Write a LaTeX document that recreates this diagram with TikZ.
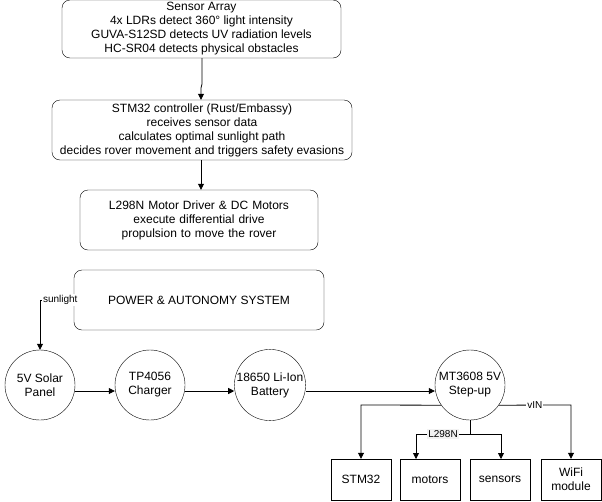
\documentclass[tikz,border=0pt]{standalone}
\usepackage{fontspec}
\setmainfont{Liberation Sans}
\usetikzlibrary{arrows.meta}
\begin{document}
\begin{tikzpicture}[x=1pt,y=-1pt,
  rbox/.style={draw,rounded corners=8pt,align=center,inner sep=0pt},
  sbox/.style={draw,align=center,inner sep=0pt},
  circ/.style={draw,circle,minimum size=70pt,inner sep=0pt,align=center},
  arr/.style={-{Triangle[length=6pt,width=6pt]},line width=0.8pt},
  lab/.style={font=\fontsize{10}{12}\selectfont,fill=white,inner sep=1pt},
  every node/.append style={font=\fontsize{12}{14}\selectfont}]
\useasboundingbox (0,0) rectangle (602,501);
\node[rbox,minimum width=279pt,minimum height=58pt] (sa) at (201.5,29) {Sensor Array\\4x LDRs detect 360° light intensity\\GUVA-S12SD detects UV radiation levels\\HC-SR04 detects physical obstacles};
\node[rbox,minimum width=300pt,minimum height=60pt] (mc) at (202,130) {STM32 controller (Rust/Embassy)\\receives sensor data\\calculates optimal sunlight path\\decides rover movement and triggers safety evasions};
\node[rbox,minimum width=238pt,minimum height=60pt,text width=236pt] (md) at (199,220) {L298N Motor Driver \& DC Motors\\execute differential drive propulsion to move the rover};
\node[rbox,minimum width=250pt,minimum height=60pt] (pw) at (199,300) {POWER \& AUTONOMY SYSTEM};
\node[circ] (c1) at (40,385) {5V Solar\\Panel};
\node[circ] (c2) at (150,385) {TP4056\\Charger};
\node[circ] (c3) at (270,385) {18650 Li-Ion\\Battery};
\node[circ] (c4) at (470,385) {MT3608 5V\\Step-up};
\node[sbox,minimum width=60pt,minimum height=41pt] (b1) at (361,479.5) {STM32};
\node[sbox,minimum width=60pt,minimum height=41pt] (b2) at (430,479.5) {motors};
\node[sbox,minimum width=60pt,minimum height=41pt] (b3) at (500,479.5) {sensors};
\node[sbox,minimum width=60pt,minimum height=41pt] (b4) at (571,479.5) {WiFi\\module};
\draw[arr] (sa.south -| 202,0) -- (202,84) -- (201,88) -- (mc.north -| 201,0);
\draw[arr] (mc.south -| 201,0) -- (md.north -| 201,0);
\draw[arr] (pw.west) -- (40,300) node[lab,pos=0.4] {sunlight} -- (c1.north);
\draw[arr] (c1.east |- 0,391) -- (c2.west |- 0,391);
\draw[arr] (c2.east |- 0,391) -- (c3.west |- 0,391);
\draw[arr] (c3.east |- 0,391) -- (c4.west |- 0,391);
\draw[arr] (c4.-145) -- (361,405) -- (b1.north);
\draw[arr] (c4.-35) -- (571,405) node[lab,pos=0.5] {vIN} -- (b4.north);
\coordinate (j) at (c4.south |- 0,434);
\draw (c4.south) -- (j);
\draw[arr] (j) -- (416,434) node[lab,pos=0.5,fill=gray!10] {L298N} -- (416,459);
\draw[arr] (j) -- (501,434) -- (501,459);
\end{tikzpicture}
\end{document}
